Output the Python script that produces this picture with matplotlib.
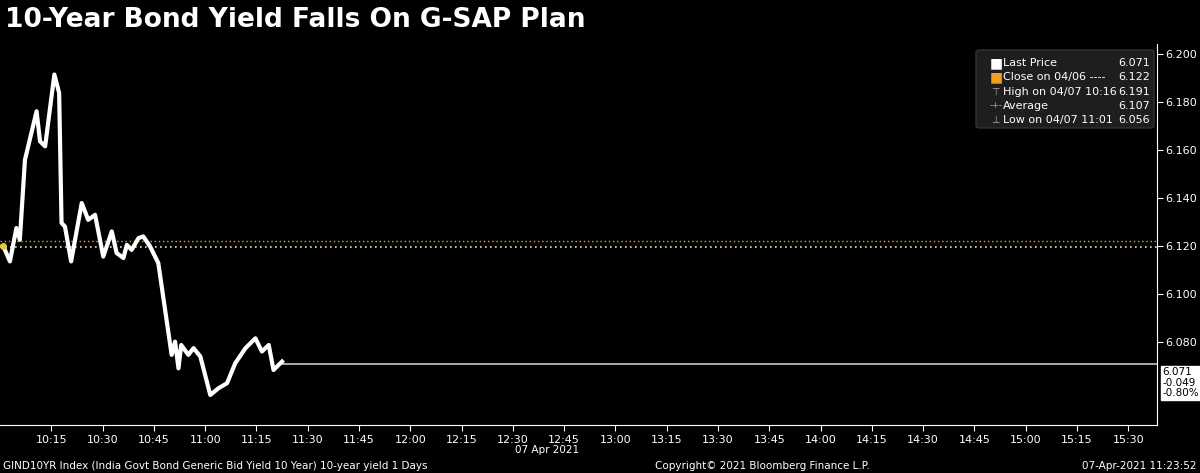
import matplotlib
matplotlib.use("Agg")
import matplotlib.pyplot as plt
from matplotlib.patches import FancyBboxPatch

# minutes after 10:00
minutes = [0.9, 2.9, 4.8, 5.8, 7.3, 10.7, 11.7, 13.2, 15.9, 17.3, 18.0, 19.0, 20.8, 23.9, 25.8,
           27.8, 30.2, 32.7, 34.1, 36.1, 37.1, 38.5, 40.5, 41.9, 43.9, 46.3, 50.2, 51.2, 52.2,
           53.0, 55.1, 56.6, 58.6, 61.5, 63.9, 66.4, 68.8, 71.8, 74.7, 76.6, 78.6, 80.0, 82.5]
yields = [6.120, 6.1135, 6.1274, 6.1225, 6.1558, 6.176, 6.1635, 6.1614, 6.1913, 6.1836, 6.1295,
          6.128, 6.1135, 6.1378, 6.1308, 6.1329, 6.1155, 6.126, 6.117, 6.1149, 6.1204, 6.1183,
          6.1232, 6.1239, 6.1197, 6.1128, 6.0746, 6.0801, 6.069, 6.0787, 6.0746, 6.0774, 6.0739,
          6.0579, 6.0607, 6.0628, 6.0711, 6.0774, 6.0815, 6.076, 6.0787, 6.0683, 6.0718]
last_price = 6.071
close_prev = 6.122
second_ref = 6.1195
y_ticks = [6.080, 6.100, 6.120, 6.140, 6.160, 6.180, 6.200]
x_tick_min = list(range(15, 331, 15))
x_tick_labels = ["10:15", "10:30", "10:45", "11:00", "11:15", "11:30", "11:45", "12:00", "12:15",
                 "12:30", "12:45", "13:00", "13:15", "13:30", "13:45", "14:00", "14:15", "14:30",
                 "14:45", "15:00", "15:15", "15:30"]
legend_rows = [("Last Price", "6.071"), ("Close on 04/06 ----", "6.122"),
               ("High on 04/07 10:16", "6.191"), ("Average", "6.107"),
               ("Low on 04/07 11:01", "6.056")]

W, H = 1200, 473
XMAX = 338.4
fig = plt.figure(figsize=(W/100, H/100), dpi=100, facecolor="black")
ax = fig.add_axes([0, 1-425/H, 1157/W, (425-44)/H], facecolor="black")
ax.set_xlim(0, XMAX)
ax.set_ylim(6.0454, 6.204)

ax.axhline(close_prev, color="#d9a04a", ls=(0, (1, 2)), lw=1)
ax.axhline(second_ref, color="#e8e0b0", ls=(0, (1, 2)), lw=1.2)
ax.plot([minutes[-1], XMAX], [last_price, last_price], color="#c8c8c0", lw=1.2)
ax.plot(minutes, yields, color="white", lw=3, solid_joinstyle="round")
ax.plot([minutes[0]], [yields[0]], marker="o", ms=4, color="#e8c830")

for s in ["top", "left"]:
    ax.spines[s].set_visible(False)
for s in ["right", "bottom"]:
    ax.spines[s].set_color("white")
ax.yaxis.tick_right()
ax.set_yticks(y_ticks)
ax.set_yticklabels([f"{v:.3f}" for v in y_ticks])
ax.set_xticks(x_tick_min)
ax.set_xticklabels(x_tick_labels)
ax.tick_params(colors="white", labelsize=8, direction="out", length=4)
ax.tick_params(axis="y", pad=2)
ax.tick_params(axis="x", pad=3)

# last price tag
ax.annotate("6.071\n-0.049\n-0.80%", xy=(1.0, last_price), xycoords=("axes fraction", "data"),
            xytext=(4, -25), textcoords="offset points", fontsize=7.5, color="black",
            ha="left", va="bottom", linespacing=1.05,
            bbox=dict(boxstyle="square,pad=0.15", fc="white", ec="white"), annotation_clip=False)

# legend box
lx0, ly0 = 976/W, 1-128/H
fig.patches.append(FancyBboxPatch((lx0, ly0), 178/W, 78/H, boxstyle="round,pad=0,rounding_size=0.004",
                                  transform=fig.transFigure, fc="#1e1e1e", ec="#333333"))
for i, (lab, val) in enumerate(legend_rows):
    y = 1-(63+14.3*i)/H
    if i == 0:
        fig.text(990/W, y, "■", color="white", fontsize=10, va="center")
    elif i == 1:
        fig.text(990/W, y, "■", color="#f0a020", fontsize=10, va="center")
    elif i == 2:
        fig.text(991/W, y, "⊤", color="#aaaaaa", fontsize=7, va="center")
    elif i == 3:
        fig.text(990/W, y, "-+-", color="#aaaaaa", fontsize=6, va="center")
    else:
        fig.text(991/W, y, "⊥", color="#aaaaaa", fontsize=7, va="center")
    fig.text(1003/W, y, lab, color="white", fontsize=8, va="center")
    fig.text(1150/W, y, val, color="white", fontsize=8, va="center", ha="right")

fig.text(5/W, 1-20/H, "10-Year Bond Yield Falls On G-SAP Plan", color="white", fontsize=19,
         fontweight="heavy", va="center", ha="left")
fig.text(547/W, 1-450/H, "07 Apr 2021", color="white", fontsize=7.5, ha="center", va="center")
fig.text(3/W, 1-466/H, "GIND10YR Index (India Govt Bond Generic Bid Yield 10 Year) 10-year yield 1 Days",
         color="white", fontsize=7.5, va="center")
fig.text(655/W, 1-466/H, "Copyright© 2021 Bloomberg Finance L.P.", color="white", fontsize=7.5, va="center")
fig.text(1197/W, 1-466/H, "07-Apr-2021 11:23:52", color="white", fontsize=7.5, va="center", ha="right")

fig.savefig("out.png", dpi=100, facecolor="black")
